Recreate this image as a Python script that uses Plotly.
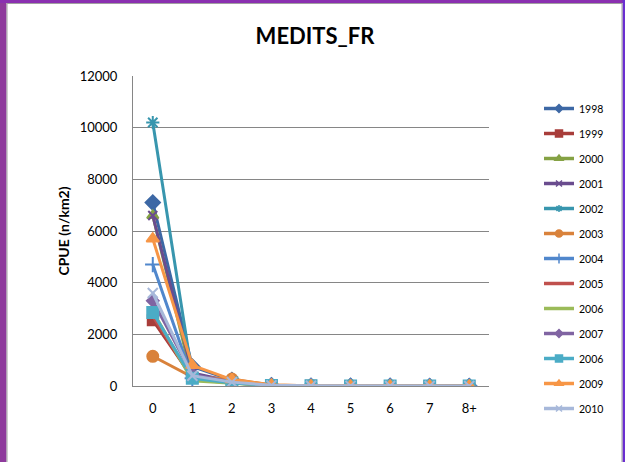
import plotly.graph_objects as go

ages = ["0", "1", "2", "3", "4", "5", "6", "7", "8+"]
series_names = ["1998", "1999", "2000", "2001", "2002", "2003", "2004",
                "2005", "2006", "2007", "2006", "2009", "2010"]

v1998 = [7100, 750, 230, 30, 10, 5, 3, 2, 2]
v1999 = [2550, 330, 150, 25, 8, 4, 3, 2, 2]
v2000 = [6600, 250, 120, 20, 8, 4, 3, 2, 2]
v2001 = [6600, 500, 180, 25, 8, 4, 3, 2, 2]
v2002 = [10200, 400, 150, 25, 8, 4, 3, 2, 2]
v2003 = [1150, 350, 270, 40, 10, 5, 3, 2, 2]
v2004 = [4700, 300, 130, 20, 8, 4, 3, 2, 2]
v2005 = [2700, 300, 130, 20, 8, 4, 3, 2, 2]
v2006 = [2900, 200, 110, 20, 8, 4, 3, 2, 2]
v2007 = [3300, 450, 160, 25, 8, 4, 3, 2, 2]
v2006b = [2850, 300, 120, 20, 8, 4, 3, 2, 2]
v2009 = [5700, 800, 250, 40, 10, 5, 3, 2, 2]
v2010 = [3600, 400, 150, 25, 8, 4, 3, 2, 2]

values = [v1998, v1999, v2000, v2001, v2002, v2003, v2004,
          v2005, v2006, v2007, v2006b, v2009, v2010]

colors = ["#3D68A5", "#A83D3A", "#85A244", "#6A4C8E", "#3896AE", "#D9823B",
          "#5087CC", "#C0504D", "#9BBB59", "#8064A2", "#4BACC6", "#F79646", "#A7B8DA"]
symbols = ["diamond", "square", "triangle-up", "x-thin", "asterisk", "circle",
           "cross-thin", None, None, "diamond", "square", "triangle-up", "x-thin"]
sizes = [11, 10, 10, 9, 11, 11, 11, 0, 0, 9, 11, 11, 10]
legend_sizes = [6, 7, 7, 6, 6, 7, 7, 0, 0, 6, 7, 7, 6]

fig = go.Figure()
for i, (name, vals) in enumerate(zip(series_names, values)):
    sym = symbols[i]
    mode = "lines+markers" if sym else "lines"
    marker = dict(color=colors[i], size=sizes[i],
                  line=dict(color=colors[i], width=2))
    if sym:
        marker["symbol"] = sym
    fig.add_trace(go.Scatter(
        x=ages, y=vals, name=name, mode=mode,
        line=dict(color=colors[i], width=3),
        marker=marker, legendgroup="g%d" % i, showlegend=False,
    ))

# legend entries with small markers (as in the original legend)
for i, name in enumerate(series_names):
    sym = symbols[i]
    mode = "lines+markers" if sym else "lines"
    marker = dict(color=colors[i], size=legend_sizes[i],
                  line=dict(color=colors[i], width=1.5))
    if sym:
        marker["symbol"] = sym
    fig.add_trace(go.Scatter(
        x=[None], y=[None], name=name, mode=mode,
        line=dict(color=colors[i], width=3.5),
        marker=marker, legendgroup="g%d" % i, showlegend=True,
    ))

L, R, T, B = 133, 136, 76, 76
W, H = 625, 462
pw, ph = W - L - R, H - T - B

def px(x):
    return (x - L) / pw

def py(y):
    return (H - B - y) / ph

shapes = [
    dict(type="rect", xref="paper", yref="paper", x0=px(0), x1=px(6.5), y0=py(462), y1=py(0),
         fillcolor="#8E3A9C", line_width=0, layer="below"),
    dict(type="rect", xref="paper", yref="paper", x0=px(0), x1=px(625), y0=py(3), y1=py(0),
         fillcolor="#8A30B0", line_width=0, layer="below"),
    dict(type="rect", xref="paper", yref="paper", x0=px(622.5), x1=px(625), y0=py(462), y1=py(0),
         fillcolor="#6A2ED0", line_width=0, layer="below"),
    dict(type="line", xref="paper", yref="paper", x0=px(7), x1=px(7), y0=py(462), y1=py(3),
         line=dict(color="#A0A0A0", width=1)),
    dict(type="line", xref="paper", yref="paper", x0=px(7), x1=px(622), y0=py(3.5), y1=py(3.5),
         line=dict(color="#A0A0A0", width=1)),
    dict(type="line", xref="paper", yref="paper", x0=px(622), x1=px(622), y0=py(462), y1=py(3),
         line=dict(color="#A0A0A0", width=1)),
]

font_family = "Lato, 'Open Sans', sans-serif"

fig.update_layout(
    width=W, height=H,
    margin=dict(l=L, r=R, t=T, b=B),
    paper_bgcolor="white", plot_bgcolor="white",
    shapes=shapes,
    title=dict(text="<b>MEDITS_FR</b>", x=px(315), xref="paper", xanchor="center",
               y=1 - 36 / H, yanchor="middle",
               font=dict(family=font_family, size=22, color="black")),
    font=dict(family=font_family, size=13, color="black"),
    showlegend=True,
    legend=dict(x=px(539), y=py(94), xanchor="left", yanchor="top",
                font=dict(size=10.5, color="black"), tracegroupgap=6,
                traceorder="grouped", bgcolor="rgba(0,0,0,0)", maxheight=420),
    xaxis=dict(type="category", showgrid=False, showline=True, linecolor="#868686",
               linewidth=1, ticks="", tickfont=dict(size=13), range=[-0.5, 8.5],
               automargin=False, ticklabelstandoff=10),
    yaxis=dict(range=[0, 12000], dtick=2000, tickformat="d", showgrid=True,
               gridcolor="#868686", gridwidth=1, showline=True, linecolor="#868686",
               linewidth=1, zeroline=False, tickfont=dict(size=13), ticks="",
               automargin=False, ticklabelstandoff=12,
               title=dict(text="<b>CPUE (n/km2)</b>", font=dict(size=14), standoff=6)),
)

fig.write_html("out.html", config={"displayModeBar": False},
               post_script="document.body.style.margin='0px';document.body.style.overflow='hidden';")
